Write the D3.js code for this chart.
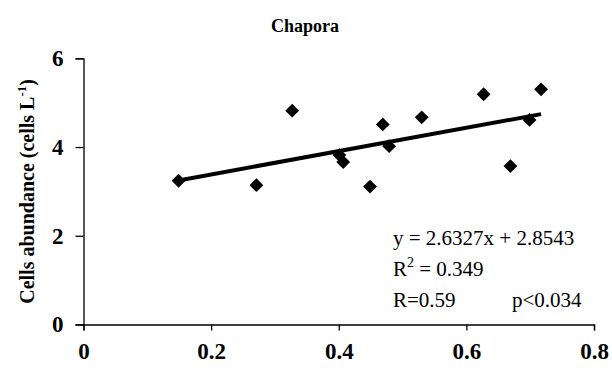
<!DOCTYPE html>
<html>
<head>
<meta charset="utf-8">
<script src="https://cdn.jsdelivr.net/npm/d3@7/dist/d3.min.js"></script>
<style>
  html, body { margin: 0; padding: 0; background: #fff; }
  svg { display: block; }
  text { font-family: "Liberation Serif", "DejaVu Serif", serif; fill: #000; }
</style>
</head>
<body>
<svg id="chart" width="612" height="374"></svg>
<script>
// Chapora: cell abundance against the x variable
const xValues = [0.149, 0.271, 0.327, 0.401, 0.407, 0.449, 0.469, 0.479, 0.530, 0.627, 0.669, 0.699, 0.717];
const yValues = [3.24, 3.14, 4.82, 3.82, 3.66, 3.11, 4.51, 4.02, 4.67, 5.19, 3.57, 4.61, 5.30];
const xTicks = [0, 0.2, 0.4, 0.6, 0.8];
const yTicks = [0, 2, 4, 6];
const slope = 2.6327;
const intercept = 2.8543;
const statLines = ["y = 2.6327x + 2.8543", "R2 = 0.349", "R=0.59"];
const pLabel = "p<0.034";

const svg = d3.select("#chart");
const x = d3.scaleLinear().domain([0, 0.8]).range([83.5, 594]);
const y = d3.scaleLinear().domain([0, 6]).range([324.5, 58.3]);

// Title
svg.append("text")
  .attr("x", 305).attr("y", 32)
  .attr("text-anchor", "middle")
  .attr("font-size", 18).attr("font-weight", "bold")
  .text("Chapora");

// Axes
const xAxis = svg.append("g")
  .attr("transform", `translate(0,${y(0)})`)
  .call(d3.axisBottom(x).tickValues(xTicks).tickSize(6).tickPadding(12)
    .tickFormat(d => d === 0 ? "0" : d3.format(".1f")(d)));
const yAxis = svg.append("g")
  .attr("transform", `translate(${x(0)},0)`)
  .call(d3.axisLeft(y).tickValues(yTicks).tickSize(8).tickPadding(12)
    .tickFormat(d3.format("d")));

[xAxis, yAxis].forEach(g => {
  g.select(".domain").attr("stroke", "#000").attr("stroke-width", 1.3);
  g.selectAll(".tick line").attr("stroke", "#000").attr("stroke-width", 1.3);
  g.selectAll(".tick text")
    .attr("font-family", "Liberation Serif, serif")
    .attr("font-weight", "bold")
    .attr("font-size", 23)
    .attr("fill", "#000");
});

// Y axis title
const yTitle = svg.append("text")
  .attr("transform", `translate(34,${y(3)}) rotate(-90)`)
  .attr("text-anchor", "middle")
  .attr("font-size", 20).attr("font-weight", "bold");
yTitle.append("tspan").text("Cells abundance (cells L");
yTitle.append("tspan").attr("dy", -8).attr("font-size", 13).text("-1");
yTitle.append("tspan").attr("dy", 8).text(")");

// Regression line
const xMin = d3.min(xValues), xMax = d3.max(xValues);
svg.append("line")
  .attr("x1", x(xMin)).attr("y1", y(slope * xMin + intercept))
  .attr("x2", x(xMax)).attr("y2", y(slope * xMax + intercept))
  .attr("stroke", "#000").attr("stroke-width", 4);

// Data points as diamonds
const diamond = d3.symbol().type(d3.symbolSquare).size(95);
svg.append("g").selectAll("path")
  .data(xValues.map((v, i) => [v, yValues[i]]))
  .join("path")
  .attr("d", diamond)
  .attr("transform", d => `translate(${x(d[0])},${y(d[1])}) rotate(45)`)
  .attr("fill", "#000");

// Regression statistics
const stats = svg.append("g").attr("font-size", 21);
stats.append("text").attr("x", 393).attr("y", 245).text(statLines[0]);
const r2 = stats.append("text").attr("x", 393).attr("y", 276);
r2.append("tspan").text("R");
r2.append("tspan").attr("dy", -9).attr("font-size", 14).text("2");
r2.append("tspan").attr("dy", 9).text(" = 0.349");
stats.append("text").attr("x", 393).attr("y", 307).text(statLines[2]);
stats.append("text").attr("x", 512).attr("y", 307).text(pLabel);
</script>
</body>
</html>
